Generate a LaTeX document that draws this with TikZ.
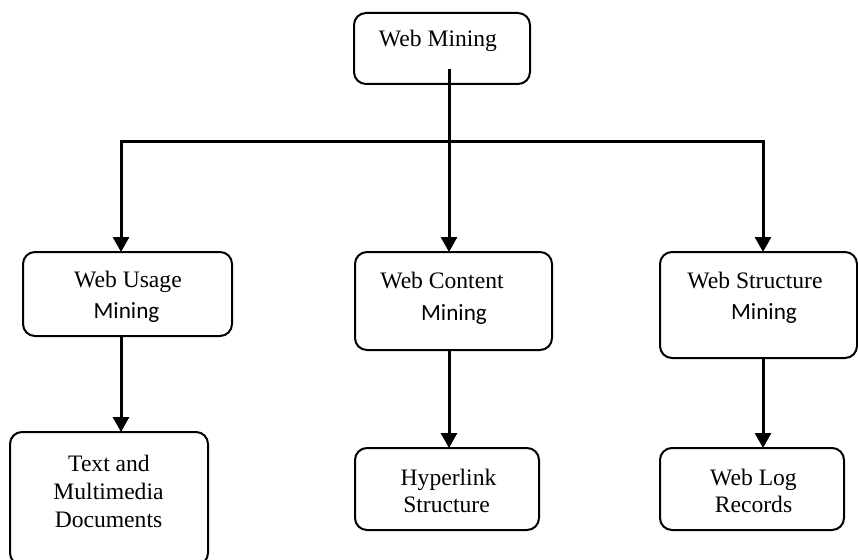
\documentclass[tikz,border=0pt]{standalone}
\usepackage{fontspec}
\setmainfont{Liberation Serif}
\newfontfamily\calib{Carlito}
\usetikzlibrary{arrows.meta}

\tikzset{
  box/.style={draw=black, line width=2pt, rounded corners=12pt, fill=white,
    inner sep=0pt, outer sep=0pt},
  lbl/.style={anchor=base, inner sep=0pt, font=\fontsize{23.6pt}{28pt}\selectfont},
  clbl/.style={anchor=base, inner sep=0pt, font=\calib\fontsize{23.2pt}{28pt}\selectfont},
  conn/.style={draw=black, line width=3pt},
  arr/.style={conn, -{Triangle[width=16pt,length=15pt]}},
}

\begin{document}
\begin{tikzpicture}[x=1pt,y=-1pt]
  \useasboundingbox (0,0) rectangle (858,559);
  \fill[white] (0,0) rectangle (858,559);
  \clip (0,0) rectangle (858,559);

  % boxes
  \node[box, minimum width=176pt, minimum height=71pt] (wm) at (442,48.5) {};
  \node[box, minimum width=209pt, minimum height=84pt] (wu) at (127.5,294) {};
  \node[box, minimum width=197pt, minimum height=98pt] (wc) at (453.5,301) {};
  \node[box, minimum width=197pt, minimum height=106pt] (ws) at (758.5,305) {};
  \node[box, minimum width=198pt, minimum height=133pt] (tm) at (109,498.5) {};
  \node[box, minimum width=184pt, minimum height=82pt] (hs) at (447,489) {};
  \node[box, minimum width=184pt, minimum height=82pt] (wl) at (752,489) {};

  % labels
  \node[lbl] (wmA) at (438,47) {Web Mining};
  \node[lbl] (wuA) at (128,287) {Web Usage};
  \node[clbl] (wuB) at (126.5,318) {Mining};
  \node[lbl] (wcA) at (442,288) {Web Content};
  \node[clbl] (wcB) at (454,320) {Mining};
  \node[lbl] (wsA) at (755,288) {Web Structure};
  \node[clbl] (wsB) at (764,319) {Mining};
  \node[lbl] (tmA) at (109,471) {Text and};
  \node[lbl] (tmB) at (108.5,499) {Multimedia};
  \node[lbl] (tmC) at (108.5,527) {Documents};
  \node[lbl] (hsA) at (448.5,485) {Hyperlink};
  \node[lbl] (hsB) at (446.5,512) {Structure};
  \node[lbl] (wlA) at (753.5,485) {Web Log};
  \node[lbl] (wlB) at (753.5,512) {Records};

  % connector points
  \coordinate (stub) at (449,69);
  \coordinate (busM) at (449,141);
  \coordinate (colL) at (121,141);
  \coordinate (colR) at (763,141);

  % top level split
  \draw[arr] (stub) -- (wc.north -| stub);
  \draw[arr] (busM) -| (wu.north -| colL);
  \draw[arr] (busM) -| (ws.north -| colR);

  % second level
  \draw[arr] (wu.south -| colL) -- (tm.north -| colL);
  \draw[arr] (wc.south -| stub) -- (hs.north -| stub);
  \draw[arr] (ws.south -| colR) -- (wl.north -| colR);
\end{tikzpicture}
\end{document}
